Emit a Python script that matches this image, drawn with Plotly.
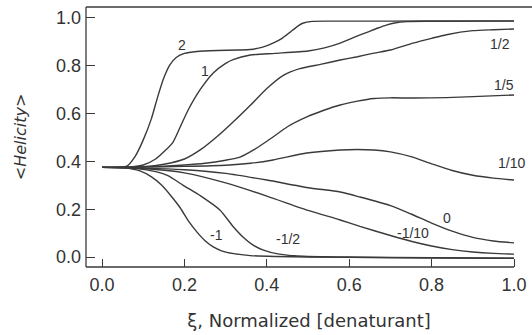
import plotly.graph_objects as go

# ---- data ----
x_2 = [0, 0.04, 0.06, 0.08, 0.10, 0.12, 0.135, 0.15, 0.165, 0.18, 0.20, 0.23, 0.28, 0.33, 0.36, 0.39, 0.415, 0.437, 0.456, 0.472, 0.487, 0.51, 0.55, 0.7, 0.85, 1.0]
y_2 = [0.375, 0.376, 0.38, 0.42, 0.49, 0.58, 0.67, 0.75, 0.805, 0.835, 0.852, 0.86, 0.864, 0.866, 0.868, 0.878, 0.895, 0.915, 0.94, 0.962, 0.978, 0.986, 0.987, 0.987, 0.988, 0.988]

x_1 = [0, 0.07, 0.10, 0.13, 0.15, 0.172, 0.19, 0.209, 0.238, 0.27, 0.30, 0.318, 0.36, 0.42, 0.50, 0.54, 0.578, 0.61, 0.643, 0.67, 0.69, 0.71, 0.74, 0.80, 1.0]
y_1 = [0.375, 0.377, 0.385, 0.41, 0.44, 0.48, 0.545, 0.615, 0.70, 0.77, 0.81, 0.826, 0.845, 0.852, 0.862, 0.875, 0.895, 0.918, 0.94, 0.958, 0.97, 0.979, 0.985, 0.986, 0.987]

x_half = [0, 0.10, 0.15, 0.20, 0.24, 0.28, 0.32, 0.36, 0.40, 0.44, 0.48, 0.53, 0.578, 0.62, 0.66, 0.70, 0.755, 0.80, 0.836, 0.90, 0.95, 1.0]
y_half = [0.375, 0.378, 0.388, 0.41, 0.45, 0.505, 0.568, 0.635, 0.705, 0.76, 0.788, 0.806, 0.824, 0.838, 0.853, 0.866, 0.895, 0.915, 0.93, 0.947, 0.951, 0.954]

x_fifth = [0, 0.10, 0.20, 0.25, 0.30, 0.335, 0.37, 0.415, 0.45, 0.497, 0.54, 0.578, 0.62, 0.66, 0.70, 0.755, 0.836, 0.90, 1.0]
y_fifth = [0.375, 0.377, 0.385, 0.392, 0.405, 0.418, 0.45, 0.502, 0.545, 0.586, 0.615, 0.636, 0.652, 0.663, 0.666, 0.665, 0.667, 0.671, 0.678]

x_tenth = [0, 0.10, 0.20, 0.30, 0.36, 0.415, 0.497, 0.578, 0.62, 0.66, 0.70, 0.75, 0.80, 0.85, 0.90, 0.95, 1.0]
y_tenth = [0.375, 0.376, 0.379, 0.384, 0.392, 0.406, 0.435, 0.448, 0.45, 0.448, 0.44, 0.42, 0.39, 0.362, 0.342, 0.33, 0.322]

x_0 = [0, 0.10, 0.20, 0.30, 0.40, 0.50, 0.578, 0.626, 0.70, 0.75, 0.80, 0.85, 0.90, 0.95, 1.0]
y_0 = [0.375, 0.372, 0.365, 0.35, 0.322, 0.29, 0.272, 0.251, 0.215, 0.18, 0.142, 0.108, 0.082, 0.067, 0.059]

x_mtenth = [0, 0.10, 0.20, 0.30, 0.40, 0.50, 0.578, 0.626, 0.70, 0.75, 0.80, 0.85, 0.90, 0.95, 1.0]
y_mtenth = [0.375, 0.37, 0.352, 0.31, 0.255, 0.195, 0.155, 0.128, 0.09, 0.066, 0.046, 0.031, 0.021, 0.015, 0.012]

x_mhalf = [0, 0.08, 0.133, 0.16, 0.197, 0.24, 0.286, 0.318, 0.342, 0.365, 0.39, 0.43, 0.488, 0.60, 0.80, 1.0]
y_mhalf = [0.375, 0.371, 0.356, 0.34, 0.30, 0.255, 0.197, 0.128, 0.084, 0.052, 0.03, 0.012, 0.003, 0.0, -0.003, -0.005]

x_m1 = [0, 0.05, 0.092, 0.12, 0.145, 0.17, 0.19, 0.21, 0.23, 0.25, 0.27, 0.29, 0.32, 0.36, 0.42, 0.50, 0.70, 1.0]
y_m1 = [0.375, 0.374, 0.36, 0.335, 0.30, 0.25, 0.205, 0.15, 0.105, 0.068, 0.042, 0.026, 0.014, 0.006, 0.002, 0.0, -0.003, -0.005]

curve_labels = ["2", "1", "1/2", "1/5", "1/10", "0", "-1/10", "-1", "-1/2"]
label_x = [0.194, 0.25, 0.966, 0.976, 0.995, 0.837, 0.755, 0.277, 0.452]
label_y = [0.887, 0.778, 0.891, 0.72, 0.393, 0.163, 0.10, 0.092, 0.075]

x_ticks = [0.0, 0.2, 0.4, 0.6, 0.8, 1.0]
y_ticks = [0.0, 0.2, 0.4, 0.6, 0.8, 1.0]

series = [(x_2, y_2), (x_1, y_1), (x_half, y_half), (x_fifth, y_fifth), (x_tenth, y_tenth),
          (x_0, y_0), (x_mtenth, y_mtenth), (x_mhalf, y_mhalf), (x_m1, y_m1)]

LINE = "#3a3a3a"
TXT = "#333333"
FONT = "DejaVu Sans"
TFONT = "Liberation Sans"

fig = go.Figure()
for xs, ys in series:
    fig.add_trace(go.Scatter(x=xs, y=ys, mode="lines",
                             line=dict(color=LINE, width=1.4, shape="spline", smoothing=0.6),
                             showlegend=False, hoverinfo="skip"))

for t, lx, ly in zip(curve_labels, label_x, label_y):
    fig.add_annotation(x=lx, y=ly, text=t, showarrow=False,
                       font=dict(family=TFONT, size=14, color=TXT))

X0, X1 = -0.039, 1.0437
Y0, Y1 = -0.0418, 1.046

# frame lines: left, top, bottom (bottom ends at x=1.0)
fig.add_shape(type="line", xref="paper", yref="paper", x0=0, x1=0, y0=0, y1=1,
              line=dict(color=LINE, width=1.3))
fig.add_shape(type="line", xref="paper", yref="paper", x0=0, x1=1, y0=1, y1=1,
              line=dict(color=LINE, width=1.3))
fig.add_shape(type="line", xref="x", yref="paper", x0=X0, x1=1.0, y0=0, y1=0,
              line=dict(color=LINE, width=1.3))

fig.update_layout(
    width=532, height=335,
    margin=dict(l=86, r=0, t=7, b=68),
    paper_bgcolor="white", plot_bgcolor="white",
    font=dict(family=FONT, color=TXT),
    xaxis=dict(range=[X0, X1], tickvals=x_ticks, tickformat=".1f",
               ticks="inside", ticklen=8, tickwidth=1.2, tickcolor=LINE,
               ticklabelstandoff=5,
               showgrid=False, zeroline=False, showline=False,
               tickfont=dict(family=TFONT, size=18, color=TXT),
               title=dict(text="ξ, Normalized [denaturant]",
                          font=dict(family=FONT, size=18, color=TXT), standoff=20)),
    yaxis=dict(range=[Y0, Y1], tickvals=y_ticks, tickformat=".1f",
               ticks="inside", ticklen=9, tickwidth=1.2, tickcolor=LINE,
               ticklabelstandoff=4,
               showgrid=False, zeroline=False, showline=False,
               tickfont=dict(family=TFONT, size=18, color=TXT),
               title=dict(text="<i>&lt;Helicity&gt;</i>",
                          font=dict(family=FONT, size=16, color=TXT), standoff=25)),
)

fig.write_html("out.html", config={"displayModeBar": False},
               post_script="document.body.style.margin='0px';")
